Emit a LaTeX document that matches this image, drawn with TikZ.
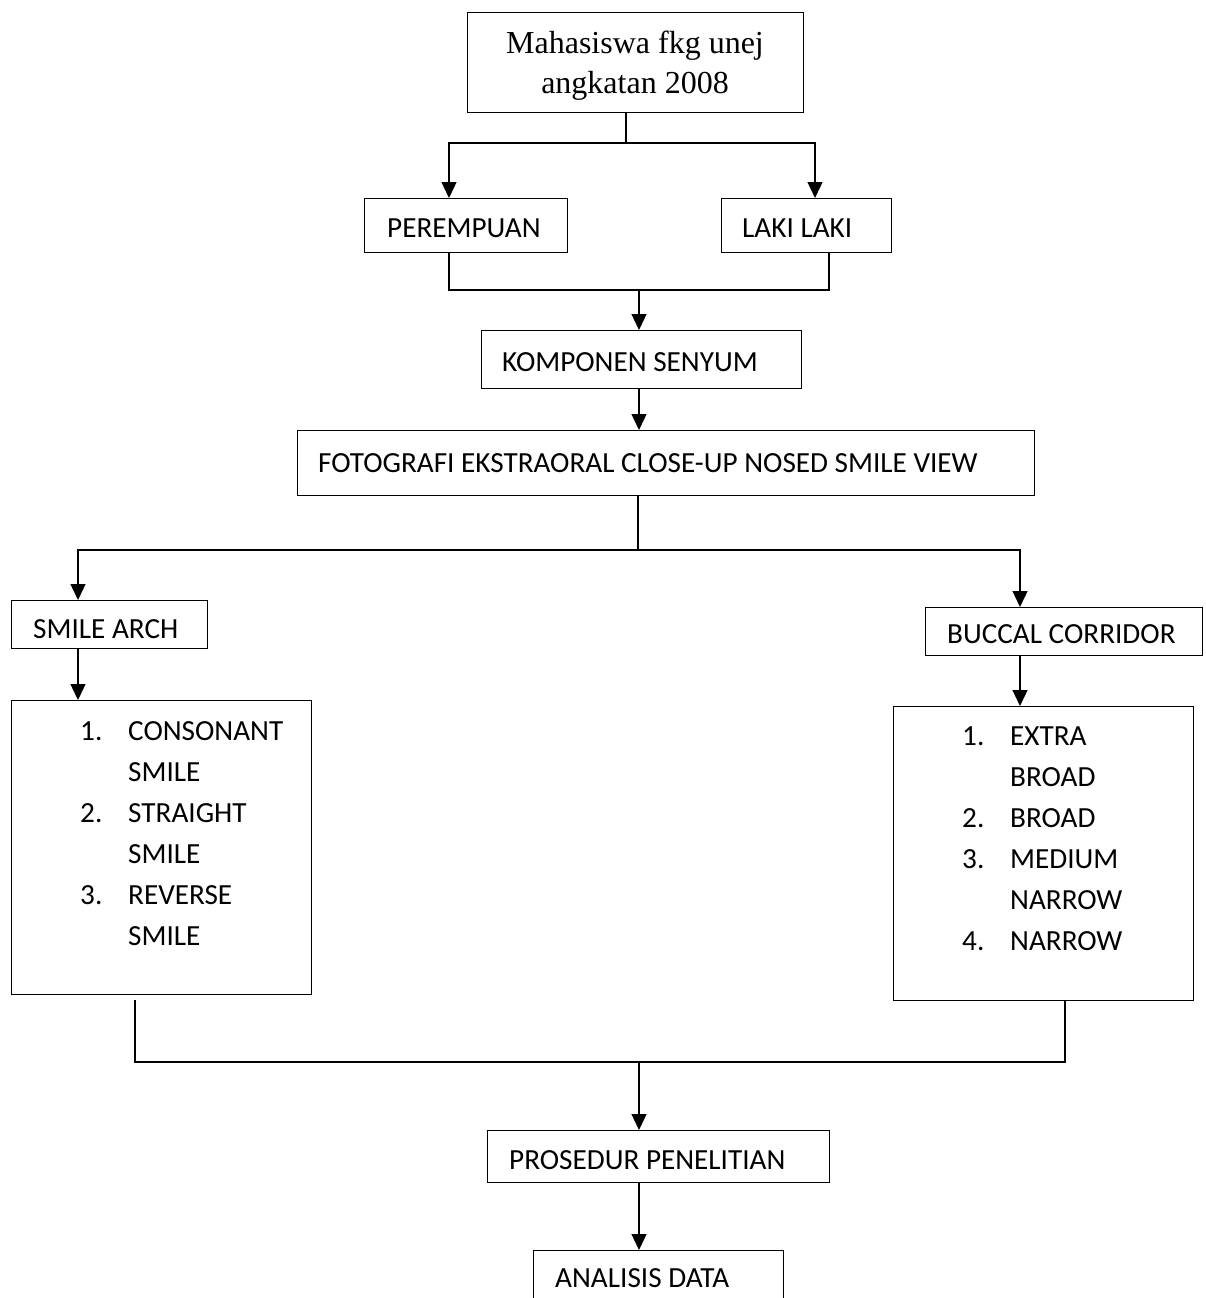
\documentclass[tikz,border=0pt]{standalone}
\usepackage{fontspec}
\setmainfont{Liberation Serif}
\newfontfamily\calfont{Carlito}
\usetikzlibrary{arrows.meta}
\tikzset{
  box/.style={draw, line width=1.3pt, rectangle, inner sep=0pt, anchor=north west},
  txt/.style={anchor=base west, inner sep=0pt, font=\calfont\fontsize{29.2}{41}\selectfont},
  arr/.style={-{Triangle[length=16pt,width=15pt]}},
  conn/.style={line width=1.3pt}
}
\newcommand\mybox[5]{\node[box, minimum width=#4-#2, minimum height=#5-#3] (#1) at (#2,#3) {};}
\begin{document}
\begin{tikzpicture}[x=1pt,y=-1pt]
\path[use as bounding box, clip] (0,0) rectangle (1205,1298);
\fill[white] (0,0) rectangle (1205,1298);
% boxes
\mybox{top}{467}{12}{803}{112}
\mybox{per}{364}{198}{567}{252}
\mybox{laki}{721}{198}{891}{252}
\mybox{kom}{481}{330}{801}{388}
\mybox{foto}{297}{430}{1034}{495}
\mybox{sa}{11}{600}{207}{648}
\mybox{bc}{925}{607}{1202}{655}
\mybox{lista}{11}{700}{311}{994}
\mybox{listb}{893}{706}{1193}{1000}
\mybox{pro}{487}{1130}{829}{1182}
\mybox{ana}{533}{1250}{783}{1330}
% texts
\node[anchor=base, align=center, inner sep=0pt, font=\fontsize{32}{40}\selectfont] (ttop) at (635,93) {Mahasiswa fkg unej\\angkatan 2008};
\node[txt] (tper) at (387,237) {PEREMPUAN};
\node[txt] (tlaki) at (742,237) {LAKI LAKI};
\node[txt] (tkom) at (502,371) {KOMPONEN SENYUM};
\node[txt] (tfoto) at (318,472) {FOTOGRAFI EKSTRAORAL CLOSE-UP NOSED SMILE VIEW};
\node[txt] (tsa) at (33,638) {SMILE ARCH};
\node[txt] (tbc) at (947,643) {BUCCAL CORRIDOR};
\node[txt] (tpro) at (509,1169) {PROSEDUR PENELITIAN};
\node[txt] (tana) at (555,1287) {ANALISIS DATA};
% list A
\node[txt] (a1n) at (80,740) {1.};
\node[txt] (a1) at (128,740) {CONSONANT};
\node[txt] (a1b) at (128,781) {SMILE};
\node[txt] (a2n) at (80,822) {2.};
\node[txt] (a2) at (128,822) {STRAIGHT};
\node[txt] (a2b) at (128,863) {SMILE};
\node[txt] (a3n) at (80,904) {3.};
\node[txt] (a3) at (128,904) {REVERSE};
\node[txt] (a3b) at (128,945) {SMILE};
% list B
\node[txt] (b1n) at (962,745) {1.};
\node[txt] (b1) at (1010,745) {EXTRA};
\node[txt] (b1b) at (1010,786) {BROAD};
\node[txt] (b2n) at (962,827) {2.};
\node[txt] (b2) at (1010,827) {BROAD};
\node[txt] (b3n) at (962,868) {3.};
\node[txt] (b3) at (1010,868) {MEDIUM};
\node[txt] (b3b) at (1010,909) {NARROW};
\node[txt] (b4n) at (962,950) {4.};
\node[txt] (b4) at (1010,950) {NARROW};
% junctions
\coordinate (j1) at (626,143);
\coordinate (j2) at (639,290);
\coordinate (j3) at (638,550);
\coordinate (j4) at (639,1062);
\coordinate (c1) at (135,1000);
% connectors
\begin{scope}[conn]
\draw (j1 |- top.south) -- (j1);
\draw[arr] (j1) -| (449,0 |- per.north);
\draw[arr] (j1) -| (815,0 |- laki.north);
\draw (449,0 |- per.south) |- (j2);
\draw (829,0 |- laki.south) |- (j2);
\draw[arr] (j2) -- (j2 |- kom.north);
\draw[arr] (639,0 |- kom.south) -- (639,0 |- foto.north);
\draw (j3 |- foto.south) -- (j3);
\draw[arr] (j3) -| (78,0 |- sa.north);
\draw[arr] (j3) -| (1020,0 |- bc.north);
\draw[arr] (78,0 |- sa.south) -- (78,0 |- lista.north);
\draw[arr] (1020,0 |- bc.south) -- (1020,0 |- listb.north);
\draw (c1) |- (j4);
\draw (1065,0 |- listb.south) |- (j4);
\draw[arr] (j4) -- (j4 |- pro.north);
\draw[arr] (639,0 |- pro.south) -- (639,0 |- ana.north);
\end{scope}
\end{tikzpicture}
\end{document}
